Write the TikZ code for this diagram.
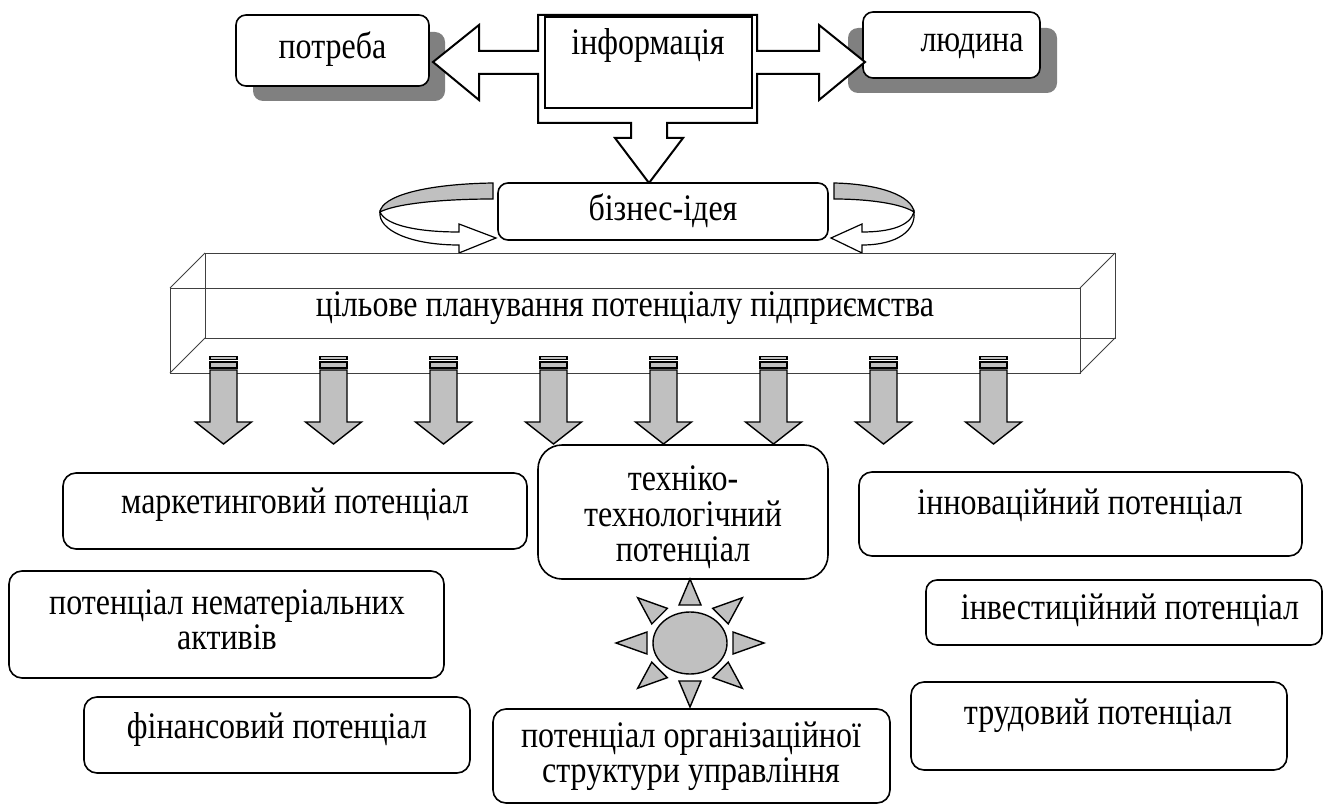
\documentclass[tikz,border=0pt]{standalone}
\usepackage{graphicx}
\usepackage{fontspec}
\setmainfont{Liberation Serif}
\definecolor{shd}{RGB}{128,128,128}
\definecolor{lg}{RGB}{192,192,192}
\newcommand\stt[1]{\scalebox{1}[1.17]{\begin{tabular}{@{}c@{}}#1\end{tabular}}}
\begin{document}
\begin{tikzpicture}[x=1pt,y=-1pt,
  font=\fontsize{32}{29.5}\selectfont,
  box/.style={draw, line width=1.6pt, rounded corners=13pt, fill=white, inner sep=0pt},
  txt/.style={align=center, inner sep=0pt},
  fat/.style={draw, line width=2pt, line join=miter, fill=white},
  dnarrow/.style={draw, line width=1.4pt, fill=lg, line join=miter},
  ribbon/.style={draw, line width=1.2pt},
  wire/.style={draw=black!75, line width=0.9pt},
  sunst/.style={draw, line width=1.4pt, fill=lg}]
\useasboundingbox (0,0) rectangle (1324,805);
% #1 name, #2 left, #3 top, #4 right, #5 bottom, #6 text x, #7 text y, #8 text, #9 radius
\newcommand\potbox[9]{%
  \node[box, rounded corners=#9pt, minimum width={#4-#2}, minimum height={#5-#3}] (#1) at ({(#2+#4)/2},{(#3+#5)/2}) {};
  \node[txt] (#1t) at (#6,#7) {\stt{#8}};}

% top row
\fill[shd, rounded corners=10pt] (253,32) rectangle (445,101);
\potbox{potreba}{236}{15}{429}{86}{332.5}{50}{потреба}{10}
\fill[shd, rounded corners=10pt] (848,28) rectangle (1057,93);
\potbox{lyudyna}{863}{12}{1040}{78}{972}{45}{людина}{10}

% quad arrow around "інформація"
\path[fat] (538,15) -- (757,15) -- (757,51) -- (819,51) -- (819,25) -- (865,62) -- (819,100) -- (819,74)
  -- (757,74) -- (757,123) -- (667,123) -- (667,138) -- (683,138) -- (649,183) -- (615,138) -- (631,138)
  -- (631,123) -- (538,123) -- (538,74) -- (479,74) -- (479,100) -- (433,62) -- (479,25) -- (479,51)
  -- (538,51) -- cycle;
\node[draw, line width=2pt, fill=white, inner sep=0pt, minimum width=207pt, minimum height=91pt] (info) at (648.5,62.5) {};
\node[txt] (infotext) at (648,47) {\stt{інформація}};

% business idea
\potbox{idea}{498}{183}{828}{240}{663}{212}{бізнес-ідея}{10}

% left curved arrow
\path[ribbon, fill=lg] (493,183) .. controls (425,184) and (382,196) .. (380,212)
  .. controls (395,204) and (440,199) .. (493,199) -- cycle;
\path[ribbon, fill=white] (380,212) .. controls (386,226) and (420,232) .. (459,232) -- (459,224) -- (496,238)
  -- (459,253) -- (459,245) .. controls (410,245) and (378,230) .. (380,212) -- cycle;
% right curved arrow
\path[ribbon, fill=lg] (834,183) .. controls (880,184) and (912,196) .. (914,212)
  .. controls (902,204) and (870,199) .. (834,199) -- cycle;
\path[ribbon, fill=white] (914,212) .. controls (910,226) and (890,232) .. (862,232) -- (862,224) -- (831,238)
  -- (862,253) -- (862,245) .. controls (898,245) and (916,230) .. (914,212) -- cycle;

% 3D bar
\draw[wire] (205,253) rectangle (1115,338);
\draw[wire] (170,288) rectangle (1080,373);
\draw[wire] (170,288) -- (205,253);
\draw[wire] (1080,288) -- (1115,253);
\draw[wire] (170,373) -- (205,338);
\draw[wire] (1080,373) -- (1115,338);
\node[txt] (plan) at (625,309) {\stt{цільове планування потенціалу підприємства}};

% eight striped down arrows
\foreach \c in {223.5,333.5,443.5,553.5,663.5,773.5,883.5,993.5}{
  \path[dnarrow] (\c-13.5,356.5) rectangle (\c+13.5,359.5);
  \path[dnarrow] (\c-13.5,362) rectangle (\c+13.5,368);
  \path[dnarrow] (\c-13.5,370) -- (\c+13.5,370) -- (\c+13.5,422) -- (\c+28,422) -- (\c,444)
     -- (\c-28,422) -- (\c-13.5,422) -- cycle;
}

% potentials
\potbox{market}{63}{473}{527}{549}{295}{506}{маркетинговий потенціал}{13}
\potbox{tech}{538}{445}{828}{579}{683}{519}{техніко-\\технологічний\\потенціал}{24}
\potbox{innov}{859}{472}{1302}{556}{1080}{507}{інноваційний потенціал}{13}
\potbox{nemat}{9}{571}{444}{678}{227}{625}{потенціал нематеріальних\\активів}{13}
\potbox{invest}{926}{580}{1322}{645}{1130}{612}{інвестиційний потенціал}{11}
\potbox{fin}{84}{697}{470}{773}{277}{731}{фінансовий потенціал}{13}
\potbox{org}{493}{709}{890}{803}{691}{757}{потенціал організаційної\\структури управління}{13}
\potbox{trud}{911}{682}{1287}{770}{1098}{717}{трудовий потенціал}{13}

% sun
\foreach \t in {0,45,...,315}{
  \path[sunst] ({690+43*cos(\t)+11*sin(\t)},{643+38*sin(\t)-11*cos(\t)}) -- ({690+74*cos(\t)},{643+64*sin(\t)})
    -- ({690+43*cos(\t)-11*sin(\t)},{643+38*sin(\t)+11*cos(\t)}) -- cycle;
}
\path[sunst] (690,643) ellipse (37 and 31);
\end{tikzpicture}
\end{document}
